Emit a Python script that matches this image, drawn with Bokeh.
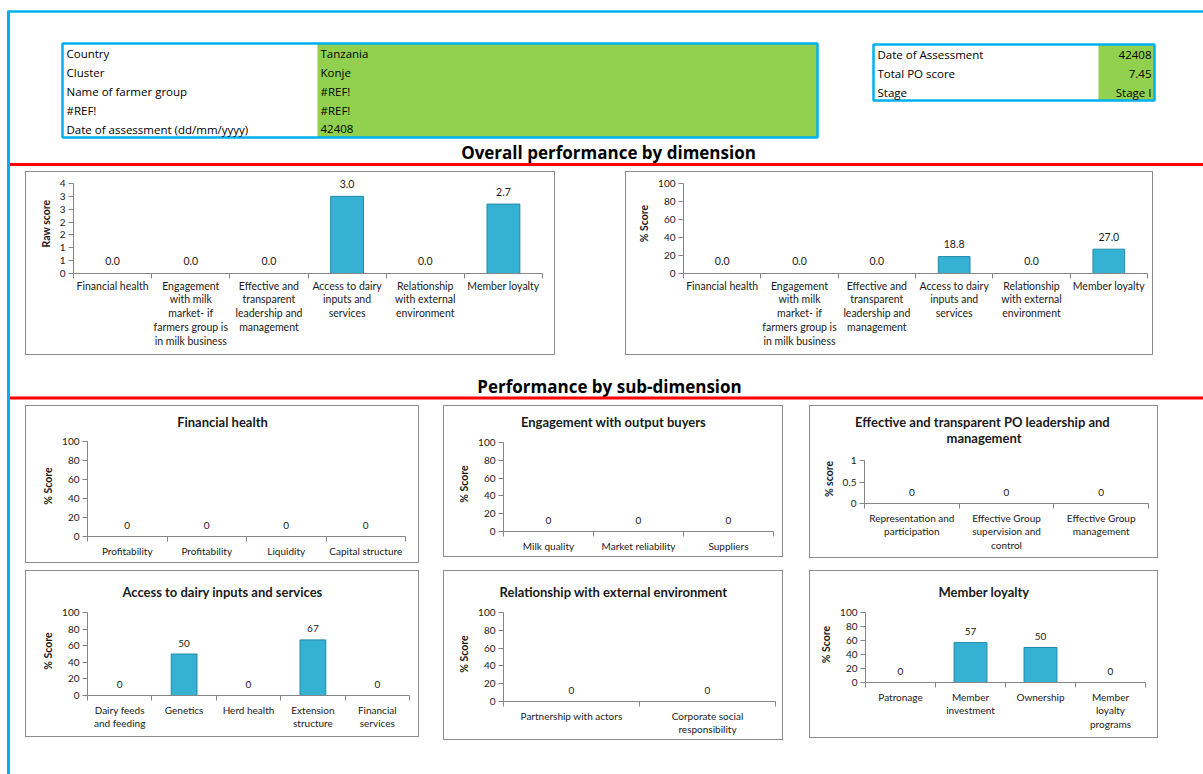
from bokeh.plotting import figure
from bokeh.layouts import column, row
from bokeh.models import (Range1d, FixedTicker, LabelSet, ColumnDataSource,
                          CustomJSTickFormatter, Spacer)
from bokeh.core.properties import value
from bokeh.embed import file_html
from bokeh.resources import INLINE

# ---------------- data ----------------
info_labels = ["Country", "Cluster", "Name of farmer group", "#REF!", "Date of assessment (dd/mm/yyyy)"]
info_values = ["Tanzania", "Konje", "#REF!", "#REF!", "42408"]
summary_labels = ["Date of Assessment", "Total PO score", "Stage"]
summary_values = ["42408", "7.45", "Stage I"]

dimensions = ["Financial health",
              "Engagement\nwith milk\nmarket- if\nfarmers group is\nin milk business",
              "Effective and\ntransparent\nleadership and\nmanagement",
              "Access to dairy\ninputs and\nservices",
              "Relationship\nwith external\nenvironment",
              "Member loyalty"]
raw_scores = [0.0, 0.0, 0.0, 3.0, 0.0, 2.7]
pct_scores = [0.0, 0.0, 0.0, 18.8, 0.0, 27.0]
raw_ticks = [0, 0.5, 1, 1.5, 2, 2.5, 3, 3.5]
pct_ticks = [0, 20, 40, 60, 80, 100]
unit_ticks = [0, 0.5, 1]

fin_labels = ["Profitability", "Profitability", "Liquidity", "Capital structure"]
fin_values = [0, 0, 0, 0]
eng_labels = ["Milk quality", "Market reliability", "Suppliers"]
eng_values = [0, 0, 0]
lead_labels = ["Representation and\nparticipation", "Effective Group\nsupervision and\ncontrol",
               "Effective Group\nmanagement"]
lead_values = [0, 0, 0]
access_labels = ["Dairy feeds\nand feeding", "Genetics", "Herd health", "Extension\nstructure",
                 "Financial\nservices"]
access_values = [0, 50, 0, 67, 0]
rel_labels = ["Partnership with actors", "Corporate social\nresponsibility"]
rel_values = [0, 0]
loyal_labels = ["Patronage", "Member\ninvestment", "Ownership", "Member\nloyalty\nprograms"]
loyal_values = [0, 57, 50, 0]

# ---------------- styles ----------------
FONT = "Lato"
TFONT = "Open Sans"
BLUE = "#00b0f0"
RED = "#ff0000"
GREEN = "#92d050"
BAR = "#35b1d3"
BAR_EDGE = "#2389a8"
AXIS = "#868686"
TXT = "#1a1a1a"
BOXCSS = {"box-shadow": "inset 0 0 0 1px #8c8c8c"}
STRIPE = {"background": "linear-gradient(#00b0f0, #00b0f0) 7px 11px / 3px 100% no-repeat"}


def base_fig(w, h, **kw):
    p = figure(width=w, height=h, output_backend="svg", toolbar_location=None, **kw)
    p.outline_line_color = None
    p.background_fill_color = None
    p.border_fill_color = None
    return p


def canvas_fig(w, h):
    p = base_fig(w, h, x_range=Range1d(0, w), y_range=Range1d(h, 0), min_border=0,
                 x_axis_location=None, y_axis_location=None)
    p.grid.visible = False
    return p


def bar_chart(labels, vals, w, h, frame, yticks, ytitle, fmt, bar_frac,
              xfont="10px", dfont="10px", tick_code=None, loff=7.5, xstand=3):
    l, r, t, b = frame
    n = len(labels)
    ymax = yticks[-1]
    # extend the frame upward (headroom for data labels) while keeping the axis scale
    fh = h - t - b
    new_t = 2
    yend = ymax * (fh + (t - new_t)) / fh
    p = base_fig(w, h, x_range=Range1d(0, n), y_range=Range1d(0, yend),
                 min_border_left=l, min_border_right=r, min_border_top=new_t,
                 min_border_bottom=b)
    p.grid.visible = False
    centers = [i + 0.5 for i in range(n)]
    src = ColumnDataSource(dict(x=centers, top=list(vals), t=[fmt.format(v) for v in vals],
                                la=[1.0 if v else 0.0 for v in vals]))
    p.vbar(x="x", top="top", bottom=0, width=bar_frac, source=src,
           fill_color=BAR, line_color=BAR_EDGE, line_alpha="la", line_width=1)
    p.add_layout(LabelSet(x="x", y="top", text="t", source=src, y_offset=loff,
                          text_align=value("center"), text_baseline=value("bottom"),
                          text_font=value(FONT), text_font_size=value(dfont),
                          text_color=value(TXT)))

    xa = p.xaxis[0]
    xa.ticker = FixedTicker(ticks=centers, minor_ticks=list(range(n + 1)))
    xa.major_label_overrides = {c: s for c, s in zip(centers, labels)}
    xa.major_tick_in = 0
    xa.major_tick_out = 0
    xa.major_tick_line_color = None
    xa.minor_tick_in = 0
    xa.minor_tick_out = 5
    xa.minor_tick_line_color = AXIS
    xa.axis_line_color = AXIS
    xa.major_label_standoff = xstand
    xa.major_label_text_font = FONT
    xa.major_label_text_font_size = xfont
    xa.major_label_text_color = TXT
    xa.major_label_text_line_height = 1.15

    ya = p.yaxis[0]
    ya.ticker = FixedTicker(ticks=yticks)
    ya.bounds = (0, ymax)
    if tick_code:
        ya.formatter = CustomJSTickFormatter(code=tick_code)
    ya.major_tick_in = 0
    ya.major_tick_out = 5
    ya.minor_tick_in = 0
    ya.minor_tick_out = 0
    ya.major_tick_line_color = AXIS
    ya.axis_line_color = AXIS
    ya.major_label_standoff = 3
    ya.major_label_text_font = FONT
    ya.major_label_text_font_size = "10px"
    ya.major_label_text_color = TXT
    ya.axis_label = ytitle
    ya.axis_label_standoff = 5
    ya.axis_label_text_font = FONT
    ya.axis_label_text_font_size = "10.5px"
    ya.axis_label_text_font_style = "bold"
    ya.axis_label_text_color = TXT
    return p


def chart_unit(labels, vals, w, h, frame, yticks, ytitle, titles, title_ys, fmt, bar_frac,
               **kw):
    l, r, t, b = frame
    if titles:
        th = t - 8
        tf = canvas_fig(w, th)
        tf.text(x=[w / 2] * len(titles), y=title_ys, text=titles, text_font=value(FONT),
                text_font_size=value("13px"), text_font_style=value("bold"),
                text_align=value("center"), text_baseline=value("middle"),
                text_color=value(TXT))
        ch = bar_chart(labels, vals, w, h - th, (l, r, 8, b), yticks, ytitle, fmt, bar_frac, **kw)
        return column(row(tf), ch, styles=BOXCSS)
    ch = bar_chart(labels, vals, w, h, frame, yticks, ytitle, fmt, bar_frac, **kw)
    return column(ch, styles=BOXCSS)


def fit(unit, w, h, h_total):
    if h < h_total:
        return column(unit, Spacer(width=w, height=h_total - h))
    return unit


def table(p, x0, x1, xg, y0, row_h, labels, vals, right_vals):
    n = len(labels)
    y1 = y0 + n * row_h
    p.quad(left=[xg], right=[x1], top=[y0], bottom=[y1], fill_color=GREEN, line_color=None)
    p.quad(left=[x0], right=[x1], top=[y0], bottom=[y1], fill_color=None,
           line_color=BLUE, line_width=2.5)
    ys = [y0 + (i + 0.5) * row_h + 1 for i in range(n)]
    p.text(x=[x0 + 4] * n, y=ys, text=labels, text_font=value(TFONT),
           text_font_size=value("11.5px"), text_baseline=value("middle"),
           text_align=value("left"), text_color=value("#000000"))
    if right_vals:
        p.text(x=[x1 - 3] * n, y=ys, text=vals, text_font=value(TFONT),
               text_font_size=value("11.5px"), text_baseline=value("middle"),
               text_align=value("right"), text_color=value("#000000"))
    else:
        p.text(x=[xg + 3] * n, y=ys, text=vals, text_font=value(TFONT),
               text_font_size=value("11.5px"), text_baseline=value("middle"),
               text_align=value("left"), text_color=value("#000000"))


def heading(p, x, y, txt):
    p.text(x=[x], y=[y], text=[txt], text_font=value(TFONT), text_font_size=value("17px"),
           text_font_style=value("bold"), text_align=value("center"),
           text_baseline=value("middle"), text_color=value("#000000"))


# ---------------- header ----------------
header = canvas_fig(1203, 171)
header.segment(x0=[7], y0=[11], x1=[1203], y1=[11], line_color=BLUE, line_width=2.5)
table(header, 62, 817, 317, 43, 18.8, info_labels, info_values, False)
table(header, 873, 1154, 1098, 44, 18.67, summary_labels, summary_values, True)
heading(header, 608, 152, "Overall performance by dimension")
header.segment(x0=[9.5], y0=[164], x1=[1203], y1=[164], line_color=RED, line_width=3)

# ---------------- overall charts ----------------
ch1 = chart_unit(dimensions, raw_scores, 530, 184, (48, 13, 12, 82), raw_ticks, "Raw score",
                 [], [], "{:.1f}", 0.42, xfont="10.5px", dfont="10.5px",
                 tick_code="return Math.round(tick).toString();", loff=8.5, xstand=1)
ch2 = chart_unit(dimensions, pct_scores, 528, 184, (58, 6, 12, 82), pct_ticks, "% Score",
                 [], [], "{:.1f}", 0.41, xfont="10.5px", dfont="10.5px", loff=8.5, xstand=1)
rowA = row(Spacer(width=25, height=184), ch1, Spacer(width=70, height=184), ch2,
           Spacer(width=50, height=184))

head2 = canvas_fig(1203, 50)
heading(head2, 609, 31, "Performance by sub-dimension")
head2.segment(x0=[9.5], y0=[42.5], x1=[1203], y1=[42.5], line_color=RED, line_width=3)

# ---------------- sub-dimension charts ----------------
cA = chart_unit(fin_labels, fin_values, 394, 158, (62, 14, 36, 27), pct_ticks, "% Score",
                ["Financial health"], [16], "{:.0f}", 0.42)
cB = chart_unit(eng_labels, eng_values, 340, 152, (60, 10, 37, 26), pct_ticks, "% Score",
                ["Engagement with output buyers"], [16], "{:.0f}", 0.42)
cC = chart_unit(lead_labels, lead_values, 349, 153, (55, 10, 55, 55), unit_ticks, "% score",
                ["Effective  and transparent PO leadership and", "management"], [16, 32.5],
                "{:.0f}", 0.42, tick_code="return tick.toString();")
rowB = row(Spacer(width=25, height=158), cA, Spacer(width=24, height=158),
           fit(cB, 340, 152, 158), Spacer(width=26, height=158), fit(cC, 349, 153, 158),
           Spacer(width=45, height=158))

gap = Spacer(width=1203, height=7)

cD = chart_unit(access_labels, access_values, 394, 167, (62, 10, 42, 42), pct_ticks, "% Score",
                ["Access to dairy inputs and services"], [21], "{:.0f}", 0.40)
cE = chart_unit(rel_labels, rel_values, 340, 170, (60, 8, 42, 39), pct_ticks, "% Score",
                ["Relationship with external environment"], [21], "{:.0f}", 0.42)
cF = chart_unit(loyal_labels, loyal_values, 349, 168, (56, 13, 42, 56), pct_ticks, "% Score",
                ["Member loyalty"], [21], "{:.0f}", 0.47)
rowC = row(Spacer(width=25, height=170), fit(cD, 394, 167, 170), Spacer(width=24, height=170),
           cE, Spacer(width=26, height=170), fit(cF, 349, 168, 170),
           Spacer(width=45, height=170))

bottom = Spacer(width=1203, height=34)

page = column(header, rowA, head2, rowB, gap, rowC, bottom, styles=STRIPE)

open("out.html", "w").write(file_html(page, INLINE))
